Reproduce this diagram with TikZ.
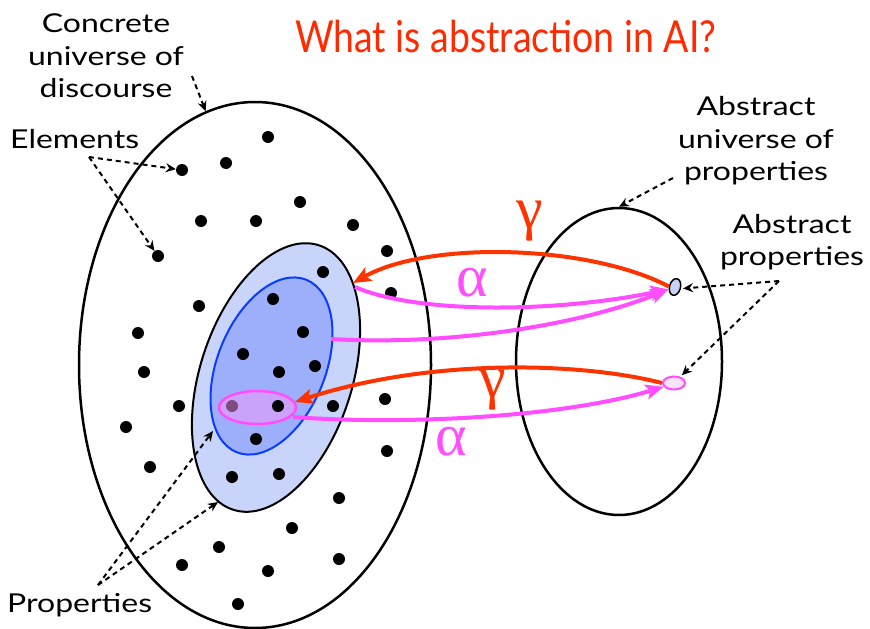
\documentclass[tikz,border=0pt]{standalone}
\usepackage{fontspec}
\setmainfont{Lato}
\newfontfamily\labelfont[FakeStretch=1.23]{Lato}
\newfontfamily\titlefont[FakeStretch=0.85]{Lato}
\newfontfamily\greekfont{Liberation Serif}
\usetikzlibrary{shapes,arrows.meta,positioning}
\definecolor{titlered}{RGB}{255,42,0}
\definecolor{gammared}{RGB}{255,51,0}
\definecolor{alphamag}{RGB}{255,77,255}
\definecolor{propouter}{RGB}{200,212,250}
\definecolor{propinner}{RGB}{157,175,250}
\definecolor{propline}{RGB}{10,60,255}
\definecolor{pinkfill}{RGB}{250,150,250}
\definecolor{absblue}{RGB}{200,210,245}
\definecolor{abspink}{RGB}{252,225,252}

\begin{document}
\begin{tikzpicture}[
    x=1pt, y=-1pt,
    labeltext/.style={inner sep=0pt, align=center, font=\labelfont\fontsize{26}{32.5}\selectfont},
    greektext/.style={inner sep=0pt, font=\greekfont\fontsize{60}{62}\selectfont},
    universe/.style={draw, ellipse, line width=2.5pt, inner sep=0pt},
    elem/.style={circle, fill=black, inner sep=0pt, minimum size=12pt},
    hint/.style={draw, line width=2pt, dash pattern=on 5pt off 4pt, -{Stealth[length=10pt,width=9pt]}},
    gammaarr/.style={draw=gammared, line width=4pt, -{Stealth[length=18pt,width=15pt,inset=4pt]}},
    alphaarr/.style={draw=alphamag, line width=4pt, -{Stealth[length=18pt,width=15pt,inset=4pt]}}
]
    \useasboundingbox (0,0) rectangle (870,629);

    \node[anchor=base west, inner sep=0pt, text=titlered, font=\titlefont\fontsize{44}{50}\selectfont] (title) at (295,52) {What is abstraction in AI?};

    \node[universe, minimum width=352pt, minimum height=526pt] (cu) at (255,365) {};
    \node[universe, minimum width=206pt, minimum height=307pt] (au) at (619,361.5) {};

    \node[draw, ellipse, fill=propouter, line width=2pt, inner sep=0pt, minimum width=152pt, minimum height=278pt, rotate=-18] (pOuter) at (276,377.5) {};
    \node[draw=propline, ellipse, fill=propinner, line width=2pt, inner sep=0pt, minimum width=108pt, minimum height=186pt, rotate=-22] (pInner) at (271.5,366) {};

    \foreach \px/\py [count=\i] in {268/137, 226/163, 182/170, 300/202, 201/221, 256/221, 353/225, 387/251,
        158/256, 323/272, 391/293, 199/306, 273/299, 138/333, 303/332, 243/354, 144/372, 279/372,
        315/366, 179/406, 232/406, 333/406, 385/399, 126/427, 256/439, 387/451, 150/467, 232/477,
        279/474, 339/498, 292/528, 219/547, 182/565, 268/571, 339/559, 238/604}
        \node[elem] (d\i) at (\px,\py) {};

    \node[draw=alphamag, ellipse, fill=pinkfill, fill opacity=0.5, line width=2.5pt, inner sep=0pt, minimum width=77pt, minimum height=33pt] (pSmall) at (257.5,407.5) {};
    \node[elem] (dPink) at (278,406) {};

    \node[draw, ellipse, fill=absblue, line width=1.5pt, inner sep=0pt, minimum width=11pt, minimum height=17pt, rotate=-15] (abs1) at (675,287) {};
    \node[draw=alphamag, ellipse, fill=abspink, line width=2pt, inner sep=0pt, minimum width=22pt, minimum height=13pt] (abs2) at (674,383) {};

    \node[labeltext] (concrete) at (106,56) {Concrete\\universe of\\discourse};
    \node[labeltext, anchor=base west] (elements) at (10,148) {Elements};
    \node[labeltext, anchor=base west] (props) at (7,612) {Properties};
    \node[labeltext] (absuni) at (756,141) {Abstract\\universe of\\properties};
    \node[labeltext] (absprop) at (792,242) {Abstract\\properties};

    \coordinate (concreteFrom) at (192,76);
    \coordinate (elementsFrom) at (89,157);
    \coordinate (propsFrom) at (98,585);
    \coordinate (absuniFrom) at (673,178);
    \coordinate (abspropFrom) at (779,281);
    \coordinate (innerTip) at (213,431);
    \coordinate (outerTip) at (218,502);

    \draw[hint] (concreteFrom) -- (cu.101);
    \draw[hint] (elementsFrom) -- (d3);
    \draw[hint] (elementsFrom) -- (d9);
    \draw[hint] (propsFrom) -- (innerTip);
    \draw[hint] (propsFrom) -- (outerTip);
    \draw[hint] (absuniFrom) -- (au.90);
    \draw[hint, shorten >=2pt] (abspropFrom) -- (abs1.east);
    \draw[hint, shorten >=2pt] (abspropFrom) -- (abs2.45);

    \coordinate (gammaTipU) at (353,283);
    \coordinate (alphaFromU) at (355,287);
    \coordinate (alphaFromI) at (331,339);
    \coordinate (gammaTipL) at (295,402);
    \coordinate (alphaFromL) at (293,417);

    \draw[gammaarr] (abs1.190) .. controls (590,245) and (430,240) .. (gammaTipU);
    \draw[alphaarr] (alphaFromU) .. controls (420,315) and (560,312) .. (abs1.215);
    \draw[alphaarr] (alphaFromI) .. controls (450,346) and (580,325) .. (abs1.215);
    \draw[gammaarr] (abs2.west) .. controls (580,362) and (430,358) .. (gammaTipL);
    \draw[alphaarr] (alphaFromL) .. controls (400,425) and (560,418) .. (abs2.200);

    \node[greektext, text=gammared] (gammaU) at (530,221) {γ};
    \node[greektext, text=alphamag] (alphaU) at (472,283) {α};
    \node[greektext, text=gammared] (gammaL) at (493,390) {γ};
    \node[greektext, text=alphamag] (alphaL) at (451,442) {α};
\end{tikzpicture}
\end{document}
